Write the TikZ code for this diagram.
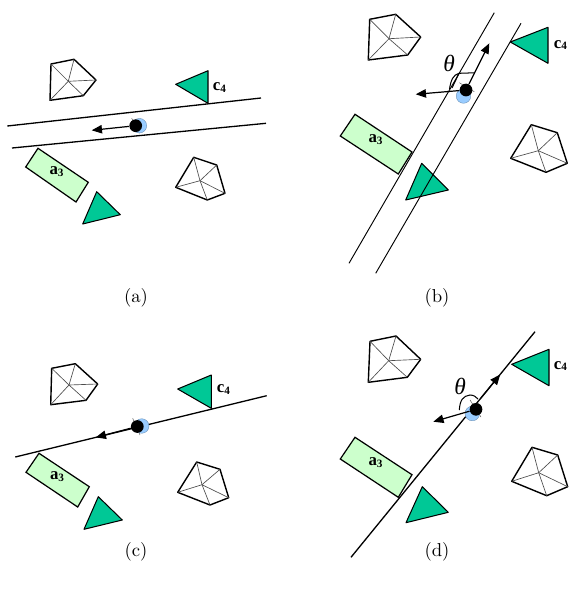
\documentclass[tikz,border=0pt]{standalone}
\usepackage{fontspec}
\newfontfamily\lblfont{Liberation Serif}
\usepackage{xcolor}
\usetikzlibrary{arrows.meta}
\definecolor{tealgreen}{HTML}{00C896}
\definecolor{palegreen}{HTML}{CCFFCC}
\definecolor{paleblue}{HTML}{99CCFF}

\begin{document}
\begin{tikzpicture}[
  x=0.535pt, y=-0.535pt,
  obst/.style={draw, line width=0.75pt, line join=round, fill=white},
  spoke/.style={draw=black!70, line width=0.35pt},
  tri/.style={draw, line width=0.55pt, line join=round, fill=tealgreen},
  goal/.style={draw, line width=0.65pt, fill=palegreen},
  wall/.style={line width=0.7pt},
  thinwall/.style={line width=0.5pt},
  axle/.style={line width=0.25pt, draw=black!70},
  arr/.style={-{Triangle[length=5.5pt, width=4.5pt]}, line width=0.65pt},
  angmark/.style={line width=0.55pt},
  botback/.style={circle, fill=paleblue, draw=paleblue!70!black, line width=0.2pt, minimum size=7.8pt, inner sep=0pt},
  botfront/.style={circle, fill=black, minimum size=6.8pt, inner sep=0pt},
  lbl/.style={font=\lblfont\bfseries\fontsize{9}{10}\selectfont, inner sep=0pt},
  anglbl/.style={font=\lblfont\itshape\fontsize{12.5}{14}\selectfont, inner sep=0pt},
  captxt/.style={font=\normalsize, inner sep=0pt},
]
\useasboundingbox (0,0) rectangle (568,595);

% panel a
\draw[obst] (51,64) -- (74,59.3) -- (96,80) -- (83.3,95.7) -- (50,100.3) -- cycle;
\foreach \p in {(51,64),(74,59.3),(96,80),(83.3,95.7),(50,100.3)} \draw[spoke] (68.3,81.3) -- \p;
\draw[obst] (193.7,157.3) -- (216.7,165) -- (225,193.3) -- (207.3,200) -- (175.7,187.3) -- cycle;
\foreach \p in {(193.7,157.3),(216.7,165),(225,193.3),(207.3,200),(175.7,187.3)} \draw[spoke] (200,180.7) -- \p;
\draw[tri] (175.7,84.3) -- (208,70.7) -- (208,103.3) -- cycle;
\draw[tri] (96.7,191.7) -- (120.3,214.7) -- (82.7,224) -- cycle;
\draw[goal] (38,148.3) -- (88.3,182.3) -- (76,202) -- (25.7,167) -- cycle;
\draw[wall] (7.3,126) -- (261,98);
\draw[wall] (12,148) -- (266,123.3);
\node[lbl] (c4a) at (220,87.5) {c\textsubscript{4}};
\node[lbl] (a3a) at (57,172) {a\textsubscript{3}};
\draw[axle] (131.7,118.3) -- (139.3,133.3);
\node[botback] (blueA) at (139.4,125.7) {};
\node[botfront] (botA) at (135.7,125.7) {};
\coordinate (tipA) at (91.7,130.3);
\draw[arr] (botA) -- (tipA);
\node[captxt] (capA) at (136,298) {(a)};

% panel b
\draw[obst] (369.7,19.3) -- (395.7,14.3) -- (420.7,37) -- (407.7,55) -- (368.3,60) -- cycle;
\foreach \p in {(369.7,19.3),(395.7,14.3),(420.7,37),(407.7,55),(368.3,60)} \draw[spoke] (389,38.7) -- \p;
\draw[obst] (531.3,124.7) -- (557.3,132.7) -- (567.3,163.3) -- (546,172.3) -- (510.7,158.3) -- cycle;
\foreach \p in {(531.3,124.7),(557.3,132.7),(567.3,163.3),(546,172.3),(510.7,158.3)} \draw[spoke] (538.3,150.7) -- \p;
\draw[tri] (510.3,42) -- (548,27.3) -- (548,63.3) -- cycle;
\draw[tri] (421.7,163.3) -- (448.3,190) -- (405.7,200) -- cycle;
\draw[goal] (355,114.3) -- (412,152) -- (398.3,174) -- (340.3,136) -- cycle;
\draw[thinwall] (349,263.3) -- (494.3,12.7);
\draw[thinwall] (375.7,273.3) -- (521,23.3);
\node[lbl] (c4b) at (561,45) {c\textsubscript{4}};
\node[lbl] (a3b) at (376,139.5) {a\textsubscript{3}};
\node[anglbl] (thetaB) at (449,63.5) {θ};
\draw[axle] (459.3,82.7) -- (474.3,91.7);
\node[botback] (blueB) at (463.5,96) {};
\node[botfront] (botB) at (466,90) {};
\coordinate (tipB) at (415.7,94.3);
\coordinate (headB) at (489.3,43.3);
\draw[arr] (botB) -- (tipB);
\draw[arr] (botB) -- (headB);
\draw[angmark] (449.5,89) .. controls (451,80) and (453,75) .. (459,73.3) -- (474.3,72.8);
\draw[angmark] (452,88) -- (459,73.3);
\node[captxt] (capB) at (437,298) {(b)};

% panel c
\draw[obst] (51.7,368.3) -- (75.3,363.7) -- (97.7,384) -- (86,400.3) -- (50.7,404.7) -- cycle;
\foreach \p in {(51.7,368.3),(75.3,363.7),(97.7,384),(86,400.3),(50.7,404.7)} \draw[spoke] (69,385) -- \p;
\draw[obst] (196.7,462) -- (220,469.3) -- (228.7,497.7) -- (210,505) -- (177.7,492.3) -- cycle;
\foreach \p in {(196.7,462),(220,469.3),(228.7,497.7),(210,505),(177.7,492.3)} \draw[spoke] (202,484.7) -- \p;
\draw[tri] (177.7,389) -- (211.3,375) -- (211.3,408.3) -- cycle;
\draw[tri] (98.3,496.7) -- (122.3,520) -- (84,529.3) -- cycle;
\draw[goal] (39,453.3) -- (89.3,486.7) -- (77.7,507) -- (26,472.3) -- cycle;
\draw[wall] (15.3,457) -- (266.7,395.7);
\node[lbl] (c4c) at (224,389.5) {c\textsubscript{4}};
\node[lbl] (a3c) at (57.5,477) {a\textsubscript{3}};
\draw[axle] (132.7,418.3) -- (140,435);
\node[botback] (blueC) at (141.7,426) {};
\node[botfront] (botC) at (137.3,426.5) {};
\coordinate (tipC) at (95.7,437.4);
\draw[arr] (botC) -- (tipC);
\node[captxt] (capC) at (136,552) {(c)};

% panel d
\draw[obst] (370,341.3) -- (396,336) -- (420.7,359.3) -- (407.3,377.3) -- (368.3,382.3) -- cycle;
\foreach \p in {(370,341.3),(396,336),(420.7,359.3),(407.3,377.3),(368.3,382.3)} \draw[spoke] (388.7,360.7) -- \p;
\draw[obst] (532,447.3) -- (557.7,455) -- (567.7,486.7) -- (546.7,495.7) -- (511.7,481.3) -- cycle;
\foreach \p in {(532,447.3),(557.7,455),(567.7,486.7),(546.7,495.7),(511.7,481.3)} \draw[spoke] (538.7,472.7) -- \p;
\draw[tri] (511.7,364.3) -- (549,349.3) -- (549,385.7) -- cycle;
\draw[tri] (422.3,486.7) -- (448.3,512.3) -- (406,522.7) -- cycle;
\draw[goal] (355,437.3) -- (412,474.7) -- (398.3,497.3) -- (340.3,459) -- cycle;
\draw[wall] (351,557.3) -- (535,331.7);
\node[lbl] (c4d) at (561,366) {c\textsubscript{4}};
\node[lbl] (a3d) at (376,463) {a\textsubscript{3}};
\node[anglbl] (thetaD) at (460,386) {θ};
\draw[axle] (470,400) -- (481,417);
\node[botback] (blueD) at (472.3,413.5) {};
\node[botfront] (botD) at (476,409.3) {};
\coordinate (tipD) at (433.3,421.7);
\coordinate (startD) at (481,398);
\coordinate (headD) at (500.2,374.5);
\draw[arr] (botD) -- (tipD);
\draw[arr] (startD) -- (headD);
\draw[angmark] (459.3,410) .. controls (460,400) and (463,396) .. (470,395) .. controls (474,395) and (476,397) .. (478,399);
\node[captxt] (capD) at (437,552) {(d)};

\end{tikzpicture}
\end{document}
